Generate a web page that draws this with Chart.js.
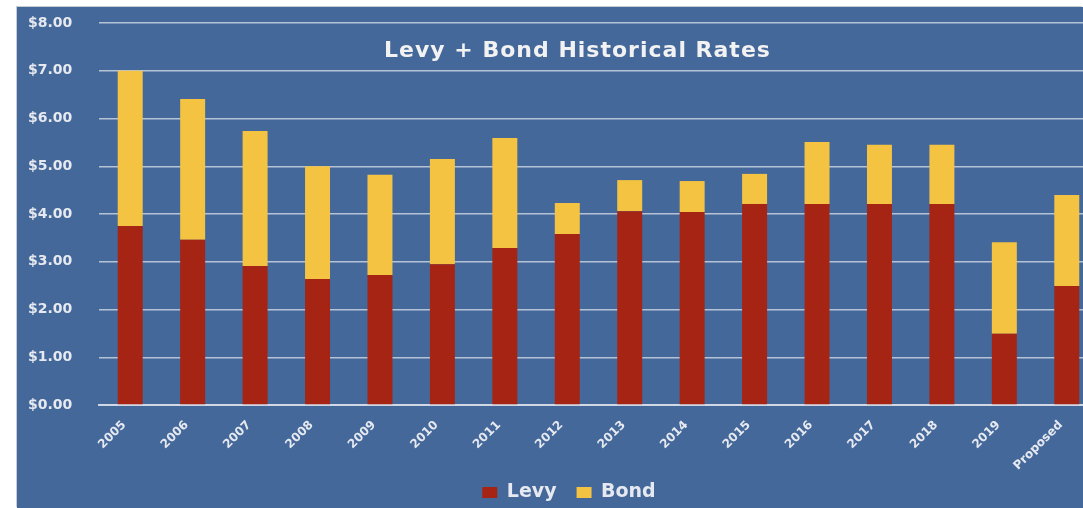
<!DOCTYPE html>
<html>
<head>
<meta charset="utf-8">
<script src="https://cdn.jsdelivr.net/npm/chart.js@4/dist/chart.umd.min.js"></script>
<style>
  html, body { margin: 0; padding: 0; background: #ffffff; }
  #panel {
    position: absolute; left: 17px; top: 7px;
    width: 1066px; height: 501px;
    background: #45689b; overflow: hidden;
    box-shadow: -1px -1px 0 #c8ccd4;
  }
  #wrap { position: absolute; left: 0; top: 0; width: 1081px; height: 501px; }
  #title {
    position: absolute; left: 0; top: 30px; width: 1121px; text-align: center;
    font: bold 22px "DejaVu Sans", sans-serif; letter-spacing: 1px;
    color: #f2f2f2; z-index: 2; pointer-events: none;
  }
</style>
</head>
<body>
<div id="panel">
  <div id="wrap"><canvas id="ratesChart"></canvas></div>
  <div id="title">Levy + Bond Historical Rates</div>
</div>
<script>
const years = ['2005', '2006', '2007', '2008', '2009', '2010', '2011', '2012',
               '2013', '2014', '2015', '2016', '2017', '2018', '2019', 'Proposed'];
const levy = [3.75, 3.46, 2.91, 2.64, 2.72, 2.95, 3.29, 3.58,
              4.06, 4.04, 4.21, 4.21, 4.21, 4.21, 1.49, 2.49];
const bond = [3.25, 2.95, 2.83, 2.36, 2.10, 2.20, 2.30, 0.65,
              0.65, 0.65, 0.63, 1.30, 1.24, 1.24, 1.92, 1.91];
const yTicks = [0, 1, 2, 3, 4, 5, 6, 7, 8];

const tickColor = '#e6e9ef';
const gridColor = 'rgba(210, 217, 230, 0.8)';

// nudge the legend a little right/down like the original
const legendNudge = {
    id: 'legendNudge',
    afterLayout(chart) {
        const lg = chart.legend;
        lg.left += 6; lg.right += 6;
        lg.top = 456; lg.bottom = chart.height;
    }
};

const ratesCtx = document.getElementById('ratesChart').getContext('2d');

const ratesChart = new Chart(ratesCtx, {
    type: 'bar',
    data: {
        labels: years,
        datasets: [{
            label: 'Levy',
            data: levy,
            backgroundColor: '#a62414',
            barPercentage: 0.4,
            categoryPercentage: 1.0
        }, {
            label: 'Bond',
            data: bond,
            backgroundColor: '#f4c342',
            barPercentage: 0.4,
            categoryPercentage: 1.0
        }]
    },
    plugins: [legendNudge],
    options: {
        responsive: true,
        maintainAspectRatio: false,
        animation: false,
        layout: { padding: { top: 16, left: 11, right: 0, bottom: 0 } },
        plugins: {
            title: { display: false },
            tooltip: { enabled: false },
            legend: {
                position: 'bottom',
                maxHeight: 36,
                labels: {
                    color: tickColor,
                    boxWidth: 15,
                    boxHeight: 11,
                    padding: 20,
                    font: { family: 'DejaVu Sans', size: 19, weight: 'bold' }
                }
            }
        },
        scales: {
            x: {
                stacked: true,
                grid: { display: false },
                border: { color: 'rgba(215, 222, 232, 0.9)', width: 2 },
                ticks: {
                    color: tickColor,
                    minRotation: 45,
                    maxRotation: 45,
                    autoSkip: false,
                    padding: 5,
                    labelOffset: -6,
                    font: { family: 'DejaVu Sans', size: 12, weight: 'bold' }
                },
                afterFit: s => { s.height = s.chart.height - 36 - 398; }
            },
            y: {
                stacked: true,
                min: 0,
                max: 8,
                afterBuildTicks: s => { s.ticks = yTicks.map(v => ({ value: v })); },
                grid: { color: gridColor, lineWidth: 1.5, drawTicks: false },
                border: { display: false },
                ticks: {
                    color: tickColor,
                    padding: 0,
                    crossAlign: 'far',
                    font: { family: 'DejaVu Sans', size: 14, weight: 'bold' },
                    callback: v => '$' + Number(v).toFixed(2)
                },
                afterFit: s => { s.width = 71; }
            }
        }
    }
});
</script>
</body>
</html>
